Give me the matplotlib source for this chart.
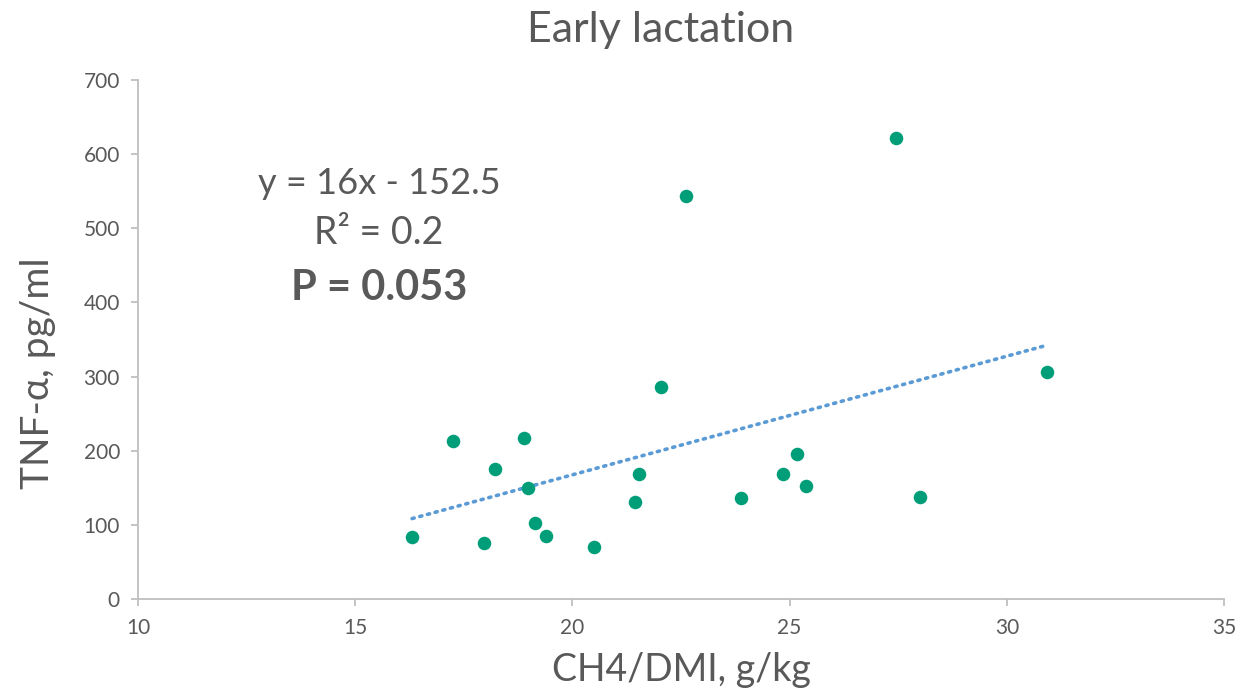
import matplotlib
matplotlib.use("Agg")
import matplotlib.pyplot as plt

plt.rcParams['font.family'] = ['Lato', 'DejaVu Sans']

# Data
ch4_dmi = [16.31, 17.25, 17.97, 18.22, 18.89, 18.98, 19.14, 19.39, 20.50, 21.44,
           21.53, 22.04, 22.61, 23.88, 24.85, 25.17, 25.38, 27.45, 28.00, 30.93]
tnf_alpha = [84, 213, 75, 175, 217, 150, 103, 85, 70, 131,
             168, 286, 544, 136, 169, 196, 152, 622, 138, 306]
slope = 16
intercept = -152.5
x_ticks = [10, 15, 20, 25, 30, 35]
y_ticks = [0, 100, 200, 300, 400, 500, 600, 700]

text_color = '#595959'
axis_color = '#BFBFBF'

fig = plt.figure(figsize=(12.35, 6.92), dpi=100)
ax = fig.add_axes([138/1235, 1-599/692, (1224-138)/1235, (599-80)/692])

ax.scatter(ch4_dmi, tnf_alpha, s=95, color='#009E78', zorder=3, linewidths=0)

x0, x1 = min(ch4_dmi), max(ch4_dmi)
ax.plot([x0, x1], [slope*x0 + intercept, slope*x1 + intercept],
        linestyle=(0, (0.6, 1.6)), color='#5B9BD5', linewidth=2.6,
        dash_capstyle='round', zorder=2)

ax.set_xlim(10, 35)
ax.set_ylim(0, 700)
ax.set_xticks(x_ticks)
ax.set_yticks(y_ticks)

for s in ['top', 'right']:
    ax.spines[s].set_visible(False)
for s in ['left', 'bottom']:
    ax.spines[s].set_color(axis_color)
    ax.spines[s].set_linewidth(1.3)
ax.tick_params(axis='both', colors=axis_color, length=5, width=1.3,
               labelcolor=text_color, labelsize=15)
ax.tick_params(axis='x', pad=9)
ax.tick_params(axis='y', pad=8)

ax.set_xlabel('CH4/DMI, g/kg', fontsize=27, color=text_color)
ax.xaxis.set_label_coords(0.5, (599-670)/519, transform=ax.transAxes)
ax.xaxis.label.set_va('center')
ax.set_ylabel('TNF-α, pg/ml', fontsize=28, color=text_color)
ax.yaxis.set_label_coords((38-138)/1086, (599-373)/519, transform=ax.transAxes)
ax.yaxis.label.set_va('center')
fig.text(661/1235, 1-30/692, 'Early lactation', fontsize=31, color=text_color,
         ha='center', va='center')

ax.text(15.55, 561, 'y = 16x - 152.5', fontsize=26, color=text_color,
        ha='center', va='center')
ax.text(15.55, 494, 'R² = 0.2', fontsize=27, color=text_color,
        ha='center', va='center')
ax.text(15.55, 420, 'P = 0.053', fontsize=30, color=text_color,
        ha='center', va='center', fontweight='bold')

fig.savefig('out.png', dpi=100)
